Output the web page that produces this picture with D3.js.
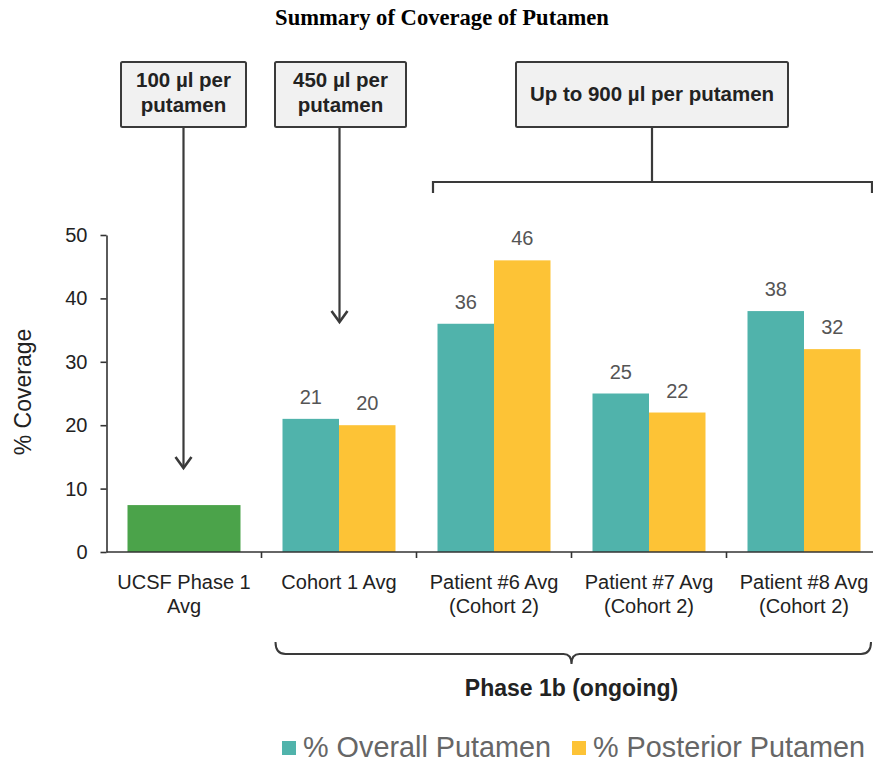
<!DOCTYPE html>
<html><head><meta charset="utf-8">
<script src="https://cdn.jsdelivr.net/npm/d3@7"></script>
<style>body{margin:0;background:#fff}svg{display:block}</style>
</head><body><svg id="c" width="873" height="765"></svg>
<script>
const categories = ["UCSF Phase 1 Avg","Cohort 1 Avg","Patient #6 Avg (Cohort 2)","Patient #7 Avg (Cohort 2)","Patient #8 Avg (Cohort 2)"];
const categoryLines = [["UCSF Phase 1","Avg"],["Cohort 1 Avg"],["Patient #6 Avg","(Cohort 2)"],["Patient #7 Avg","(Cohort 2)"],["Patient #8 Avg","(Cohort 2)"]];
const phase1Values = [7.4, null, null, null, null];
const overallValues = [null, 21, 36, 25, 38];
const posteriorValues = [null, 20, 46, 22, 32];
const yTicks = [0,10,20,30,40,50];
const seriesNames = ["% Overall Putamen","% Posterior Putamen"];

const svg = d3.select("#c");
const font = "'Liberation Sans', Arial, sans-serif";
const colTeal = "#50b3ab", colYellow = "#fdc336", colGreen = "#4ba34a";

const y = d3.scaleLinear().domain([0,50]).range([552,235]);
const x = d3.scaleBand().domain(categories).range([106.5, 106.5+5*155]).padding(0);
const bw = x.bandwidth();
const sub = d3.scaleBand().domain(["o","p"]).range([21, bw-21]).padding(0);

// title
svg.append("text").attr("x",442).attr("y",25).attr("text-anchor","middle")
  .attr("font-family","'Liberation Serif', 'Times New Roman', serif").attr("font-weight","bold")
  .attr("font-size",22.6).attr("fill","#000").text("Summary of Coverage of Putamen");

// bars
const g = svg.append("g");
categories.forEach((c,i)=>{
  if (phase1Values[i]!=null){
    g.append("rect").attr("x",x(c)+21).attr("width",bw-42)
      .attr("y",y(phase1Values[i])).attr("height",y(0)-y(phase1Values[i])).attr("fill",colGreen);
  }
  [["o",overallValues[i],colTeal],["p",posteriorValues[i],colYellow]].forEach(([k,v,col])=>{
    if (v==null) return;
    g.append("rect").attr("x",x(c)+sub(k)).attr("width",sub.bandwidth())
      .attr("y",y(v)).attr("height",y(0)-y(v)).attr("fill",col);
    g.append("text").attr("x",x(c)+sub(k)+sub.bandwidth()/2).attr("y",y(v)-15)
      .attr("text-anchor","middle").attr("font-family",font).attr("font-size",20)
      .attr("fill","#555").text(v);
  });
});

// y axis
const ya = svg.append("g").attr("transform","translate(106.5,0)")
  .call(d3.axisLeft(y).tickValues(yTicks).tickSize(6).tickSizeOuter(0).tickPadding(13));
ya.select(".domain").attr("stroke","#333").attr("stroke-width",1.6);
ya.selectAll(".tick line").attr("stroke","#333").attr("stroke-width",1.6);
ya.selectAll(".tick text").attr("font-family",font).attr("font-size",20).attr("fill","#222");

svg.append("text").attr("transform","translate(31,392) rotate(-90)").attr("text-anchor","middle")
  .attr("font-family",font).attr("font-size",23).attr("fill","#222").text("% Coverage");

// x axis
svg.append("line").attr("x1",106.5).attr("x2",873).attr("y1",y(0)).attr("y2",y(0))
  .attr("stroke","#333").attr("stroke-width",1.6);
categories.forEach((c,i)=>{
  const bx = x(c)+bw;
  svg.append("line").attr("x1",bx).attr("x2",bx).attr("y1",y(0)).attr("y2",y(0)+6)
    .attr("stroke","#333").attr("stroke-width",1.6);
  const t = svg.append("text").attr("text-anchor","middle").attr("font-family",font)
    .attr("font-size",20).attr("fill","#222");
  categoryLines[i].forEach((l,j)=>{
    t.append("tspan").attr("x",x(c)+bw/2).attr("y",589+j*24).text(l);
  });
});

// annotations
const stroke = "#3a3a3a";
function box(x0,x1,lines){
  svg.append("rect").attr("x",x0).attr("y",62).attr("width",x1-x0).attr("height",65)
    .attr("fill","#f1f1f1").attr("stroke",stroke).attr("stroke-width",2).attr("rx",1.5);
  const t = svg.append("text").attr("text-anchor","middle").attr("font-family",font)
    .attr("font-weight","bold").attr("font-size",20.5).attr("fill","#222");
  const cy = lines.length===1 ? 101 : 87;
  lines.forEach((l,j)=> t.append("tspan").attr("x",(x0+x1)/2).attr("y",cy+j*25).text(l));
}
function arrow(cx,tipY){
  svg.append("line").attr("x1",cx).attr("x2",cx).attr("y1",127).attr("y2",tipY-1)
    .attr("stroke",stroke).attr("stroke-width",2.2);
  svg.append("path").attr("d",`M${cx-8},${tipY-11}L${cx},${tipY}L${cx+8},${tipY-11}`)
    .attr("fill","none").attr("stroke",stroke).attr("stroke-width",2.6);
}
const c0 = x(categories[0])+bw/2, c1 = x(categories[1])+bw/2;
box(121,246,["100 µl per","putamen"]);
arrow(c0-0.5,468);
box(275,406,["450 µl per","putamen"]);
arrow(c1+0.5,322);
box(516,788,["Up to 900 µl per putamen"]);
svg.append("line").attr("x1",652).attr("x2",652).attr("y1",127).attr("y2",182)
  .attr("stroke",stroke).attr("stroke-width",2.2);
svg.append("path").attr("d","M433,193L433,182L872,182L872,193")
  .attr("fill","none").attr("stroke",stroke).attr("stroke-width",2.2);

// bottom brace
const bl = x(categories[1])+14, br = 871;
const mid = x(categories[3]);
svg.append("path").attr("d",
  `M${bl},642 Q${bl},654 ${bl+10},654 L${mid-8},654 Q${mid},654 ${mid},664 Q${mid},654 ${mid+8},654 L${br-10},654 Q${br},654 ${br},642`)
  .attr("fill","none").attr("stroke",stroke).attr("stroke-width",2);
svg.append("text").attr("x",mid).attr("y",696).attr("text-anchor","middle")
  .attr("font-family",font).attr("font-weight","bold").attr("font-size",23).attr("fill","#222")
  .text("Phase 1b (ongoing)");

// legend
const lg = [[282,colTeal,seriesNames[0]],[572,colYellow,seriesNames[1]]];
lg.forEach(([lx,col,name])=>{
  svg.append("rect").attr("x",lx).attr("y",741).attr("width",14).attr("height",14).attr("fill",col);
  svg.append("text").attr("x",lx+21).attr("y",757).attr("font-family",font).attr("font-size",28.8)
    .attr("fill","#666").text(name);
});
</script></body></html>
